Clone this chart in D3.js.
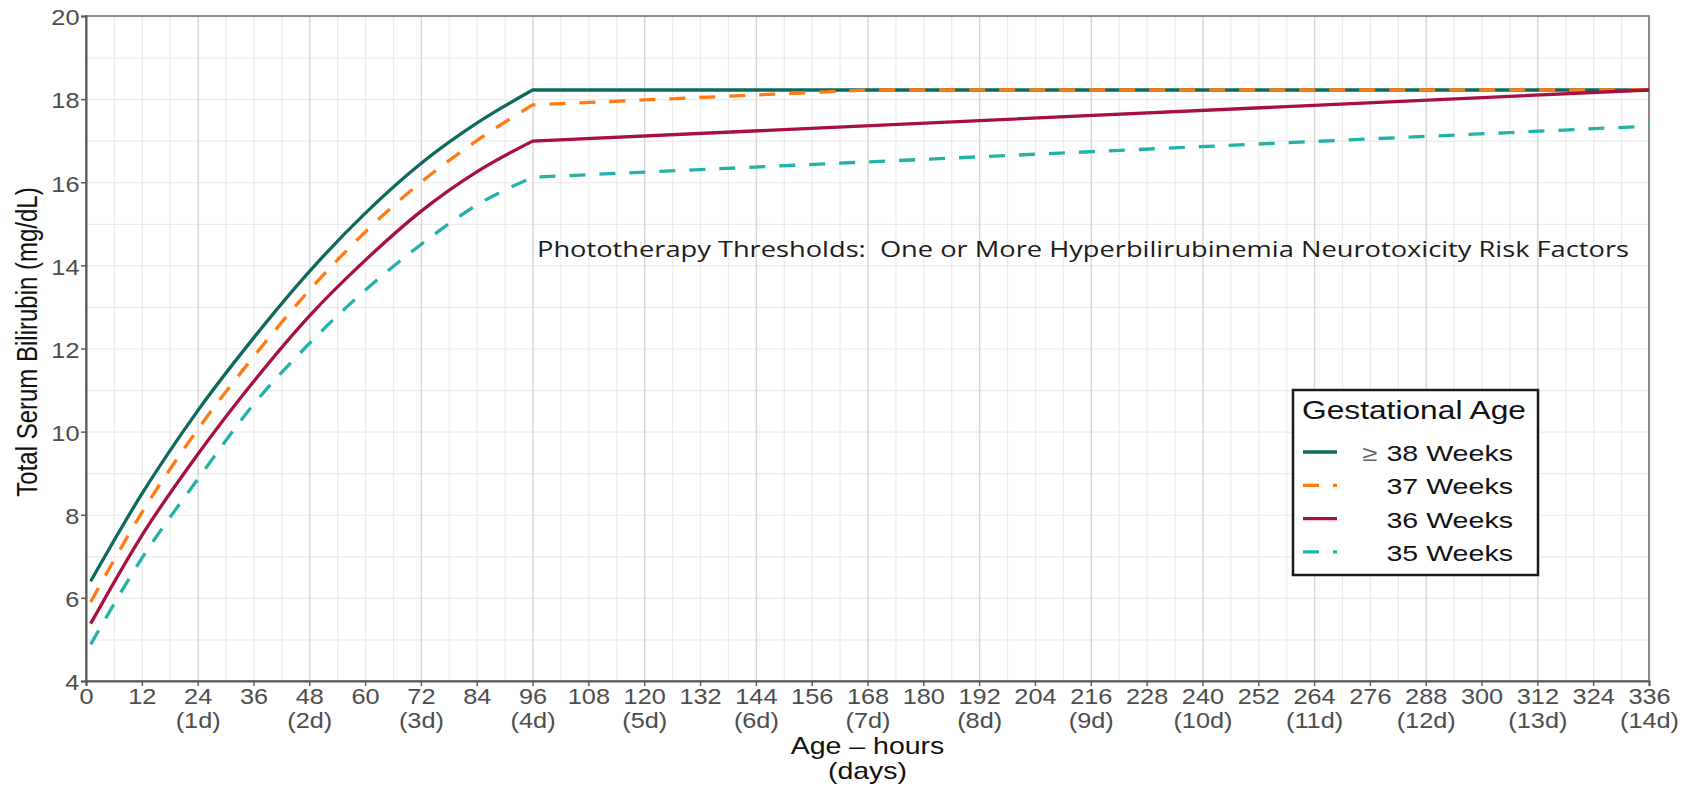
<!DOCTYPE html>
<html>
<head>
<meta charset="utf-8">
<script src="https://cdn.jsdelivr.net/npm/d3@7"></script>
<style>
  body { margin: 0; background: #fff; }
  svg { display: block; }
</style>
</head>
<body>
<script>
// rising part, hours 1..96
const riseHours = [1, 12, 24, 36, 48, 60, 72, 84, 96];
const ge38Rise = [6.4, 8.5, 10.5, 12.25, 13.85, 15.25, 16.45, 17.42, 18.22];
const wk37Rise = [5.9, 8.05, 10.05, 11.8, 13.4, 14.8, 16.0, 17.0, 17.86];
const wk36Rise = [5.38, 7.5, 9.45, 11.2, 12.78, 14.12, 15.3, 16.25, 16.99];
const wk35Rise = [4.88, 6.95, 8.85, 10.65, 12.12, 13.4, 14.5, 15.45, 16.12];

// after 96 h the thresholds are straight lines
const ge38PlatHours = [96, 336];
const ge38Plat = [18.22, 18.22];
const wk37PlatHours = [96, 168, 336];
const wk37Plat = [17.86, 18.22, 18.22];
const wk36PlatHours = [96, 336];
const wk36Plat = [16.99, 18.22];
const wk35PlatHours = [96, 336];
const wk35Plat = [16.12, 17.35];

const seriesNames = ['38 Weeks', '37 Weeks', '36 Weeks', '35 Weeks'];
const xTicks = [0, 12, 24, 36, 48, 60, 72, 84, 96, 108, 120, 132, 144, 156, 168, 180,
  192, 204, 216, 228, 240, 252, 264, 276, 288, 300, 312, 324, 336];
const dayLabels = ['(1d)', '(2d)', '(3d)', '(4d)', '(5d)', '(6d)', '(7d)', '(8d)',
  '(9d)', '(10d)', '(11d)', '(12d)', '(13d)', '(14d)'];
const yTicks = [4, 6, 8, 10, 12, 14, 16, 18, 20];

const width = 1683,
  height = 787,
  plotLeft = 86,
  plotRight = 1649,
  plotTop = 16,
  plotBottom = 681;

const font = '"Liberation Sans", Arial, sans-serif';

const series = [
  { name: seriesNames[0], rise: riseHours.map((h, i) => [h, ge38Rise[i]]), plat: ge38PlatHours.map((h, i) => [h, ge38Plat[i]]), color: '#0e6a5d', dash: null },
  { name: seriesNames[1], rise: riseHours.map((h, i) => [h, wk37Rise[i]]), plat: wk37PlatHours.map((h, i) => [h, wk37Plat[i]]), color: '#ff7b12', dash: '16 14' },
  { name: seriesNames[2], rise: riseHours.map((h, i) => [h, wk36Rise[i]]), plat: wk36PlatHours.map((h, i) => [h, wk36Plat[i]]), color: '#a8103f', dash: null },
  { name: seriesNames[3], rise: riseHours.map((h, i) => [h, wk35Rise[i]]), plat: wk35PlatHours.map((h, i) => [h, wk35Plat[i]]), color: '#22b2a8', dash: '16 14' }
];

const x = d3.scaleLinear().domain([0, 336]).range([plotLeft, plotRight]);
const y = d3.scaleLinear().domain([4, 20]).range([plotBottom, plotTop]);

const svg = d3.select('body').append('svg')
  .attr('width', width)
  .attr('height', height)
  .attr('viewBox', [0, 0, width, height]);

// grid
const minorX = d3.range(0, 337, 6).filter(d => d % 24);
const majorX = d3.range(0, 337, 24);

svg.append('g')
  .attr('transform', `translate(0,${plotBottom})`)
  .call(d3.axisBottom(x).tickValues(minorX).tickSize(-(plotBottom - plotTop)).tickFormat(''))
  .call(g => g.select('.domain').remove())
  .call(g => g.selectAll('line').attr('stroke', '#ececec').attr('stroke-width', 1.2));

svg.append('g')
  .attr('transform', `translate(${plotLeft},0)`)
  .call(d3.axisLeft(y).tickValues(d3.range(4, 21, 1)).tickSize(-(plotRight - plotLeft)).tickFormat(''))
  .call(g => g.select('.domain').remove())
  .call(g => g.selectAll('line').attr('stroke', '#ebebeb').attr('stroke-width', 1.2));

svg.append('g')
  .attr('transform', `translate(0,${plotBottom})`)
  .call(d3.axisBottom(x).tickValues(majorX).tickSize(-(plotBottom - plotTop)).tickFormat(''))
  .call(g => g.select('.domain').remove())
  .call(g => g.selectAll('line').attr('stroke', '#d6d6d6').attr('stroke-width', 1.4));

// panel border
svg.append('rect')
  .attr('x', plotLeft).attr('y', plotTop)
  .attr('width', plotRight - plotLeft).attr('height', plotBottom - plotTop)
  .attr('fill', 'none').attr('stroke', '#8c8c8c').attr('stroke-width', 2);

// axes
const gx = svg.append('g')
  .attr('transform', `translate(0,${plotBottom})`)
  .call(d3.axisBottom(x).tickValues(xTicks).tickSize(5));
gx.select('.domain').attr('stroke', '#5a5a5a').attr('stroke-width', 2);
gx.selectAll('.tick line').attr('stroke', '#5a5a5a').attr('stroke-width', 1.5);
gx.selectAll('.tick text')
  .attr('y', null).attr('dy', null)
  .attr('transform', 'translate(0,23) scale(1.15,1)')
  .attr('fill', '#4d4d4d')
  .style('font', `22px ${font}`);
gx.selectAll('.tick')
  .filter(d => d > 0 && d % 24 === 0)
  .append('text')
  .attr('text-anchor', 'middle')
  .attr('transform', 'translate(0,47) scale(1.15,1)')
  .attr('fill', '#4d4d4d')
  .style('font', `22px ${font}`)
  .text(d => dayLabels[d / 24 - 1]);

const gy = svg.append('g')
  .attr('transform', `translate(${plotLeft},0)`)
  .call(d3.axisLeft(y).tickValues(yTicks).tickSize(5));
gy.select('.domain').attr('stroke', '#5a5a5a').attr('stroke-width', 2);
gy.selectAll('.tick line').attr('stroke', '#5a5a5a').attr('stroke-width', 1.5);
gy.selectAll('.tick text')
  .attr('x', -5.7).attr('dy', '0.4em')
  .attr('transform', 'scale(1.15,1)')
  .attr('fill', '#4d4d4d')
  .style('font', `22px ${font}`);

// axis titles
svg.append('text')
  .attr('transform', `translate(${(plotLeft + plotRight) / 2},754) scale(1.24,1)`)
  .attr('text-anchor', 'middle')
  .style('font', `23px ${font}`)
  .attr('fill', '#111')
  .text('Age \u2013 hours');
svg.append('text')
  .attr('transform', `translate(${(plotLeft + plotRight) / 2},779) scale(1.24,1)`)
  .attr('text-anchor', 'middle')
  .style('font', `23px ${font}`)
  .attr('fill', '#111')
  .text('(days)');
svg.append('text')
  .attr('transform', 'translate(37,342) scale(1.2,1) rotate(-90)')
  .attr('text-anchor', 'middle')
  .style('font', `24px ${font}`)
  .attr('fill', '#111')
  .text('Total Serum Bilirubin (mg/dL)');

// curves
const riseLine = d3.line().x(d => x(d[0])).y(d => y(d[1])).curve(d3.curveMonotoneX);
const flatLine = d3.line().x(d => x(d[0])).y(d => y(d[1]));

svg.append('g')
  .selectAll('path')
  .data(series)
  .join('path')
  .attr('d', s => riseLine(s.rise) + flatLine(s.plat).replace(/^M/, 'L'))
  .attr('fill', 'none')
  .attr('stroke', s => s.color)
  .attr('stroke-width', 3.3)
  .attr('stroke-dasharray', s => s.dash);

// annotation
svg.append('text')
  .attr('x', 537).attr('y', 257)
  .attr('textLength', 1092)
  .attr('lengthAdjust', 'spacingAndGlyphs')
  .style('font', '22px "Open Sans", "Noto Sans", sans-serif')
  .style('white-space', 'pre')
  .attr('fill', '#1c1c1c')
  .text('Phototherapy Thresholds:  One or More Hyperbilirubinemia Neurotoxicity Risk Factors');

// legend
const legend = svg.append('g');
legend.append('rect')
  .attr('x', 1293).attr('y', 390)
  .attr('width', 245).attr('height', 185)
  .attr('fill', '#fff').attr('stroke', '#1a1a1a').attr('stroke-width', 2.5);
legend.append('text')
  .attr('transform', 'translate(1302,419) scale(1.22,1)')
  .style('font', `26px ${font}`)
  .attr('fill', '#111')
  .text('Gestational Age');

const item = legend.selectAll('g.item')
  .data(series)
  .join('g')
  .attr('class', 'item')
  .attr('transform', (d, i) => `translate(0,${452 + i * 33.3})`);
item.append('line')
  .attr('x1', 1303).attr('x2', 1337)
  .attr('stroke', d => d.color)
  .attr('stroke-width', 3.3)
  .attr('stroke-dasharray', d => d.dash);
item.append('text')
  .attr('transform', 'translate(1513,9) scale(1.3,1)')
  .attr('text-anchor', 'end')
  .style('font', `22px ${font}`)
  .attr('fill', '#111')
  .text(d => d.name);
legend.append('text')
  .attr('transform', 'translate(1362,461) scale(1.25,1)')
  .style('font', `22px ${font}`)
  .attr('fill', '#666')
  .text('\u2265');
</script>
</body>
</html>
